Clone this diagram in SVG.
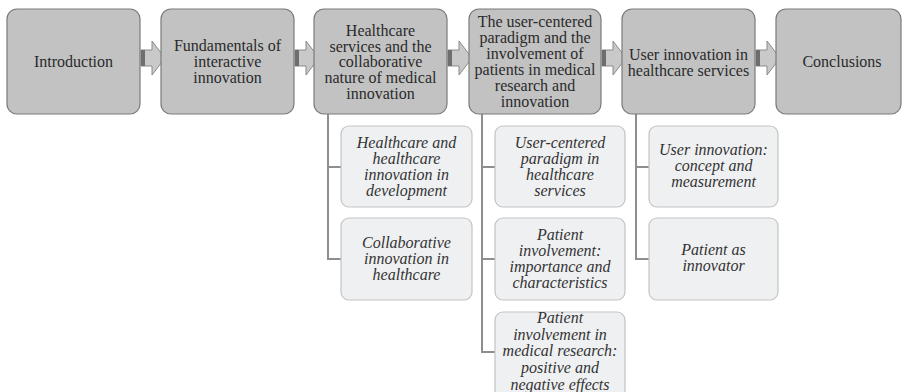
<svg xmlns="http://www.w3.org/2000/svg" width="902" height="392" viewBox="0 0 902 392">
<defs>
<style>
.main rect{fill:#c2c2c2;stroke:#7a7a7a;stroke-width:1.2}
.sub rect{fill:#eff0f2;stroke:#c4c4c4;stroke-width:1.2}
text{font-family:"Liberation Serif","Times New Roman",serif;font-size:16px;text-anchor:middle}
.main text{fill:#2a2a2a}
.sub text{fill:#333;font-style:italic}
.conn path{fill:none;stroke:#8e8e8e;stroke-width:2}
</style>
<g id="arrow"><path d="M0,50 H11 V41 L24,58 L11,75 V66 H0 Z" fill="#c9c9c9" stroke="#8a8a8a" stroke-width="1"/><rect x="0" y="50" width="4" height="16" fill="#6e6e6e"/></g>
</defs>
<rect width="902" height="392" fill="#fff"/>
<g id="connectors">
<g class="conn">
<path d="M328,114 V259 H341 M328,167 H341"/>
<path d="M482,114 V352 H495 M482,167 H495 M482,259 H495"/>
<path d="M636,114 V259 H649 M636,167 H649"/>
</g>
<g class="arr">
<use href="#arrow" x="141" y="0"/>
<use href="#arrow" x="295" y="0"/>
<use href="#arrow" x="448" y="0"/>
<use href="#arrow" x="602" y="0"/>
<use href="#arrow" x="756" y="0"/>
</g>
</g>
<g id="n1" class="main"><rect x="7" y="9" width="133" height="105" rx="10"/><text x="73.5" y="67">Introduction</text></g>
<g id="n2" class="main"><rect x="161" y="9" width="133" height="105" rx="10"/><text x="227.5" y="50.5">Fundamentals of</text><text x="227.5" y="66.5">interactive</text><text x="227.5" y="82.5">innovation</text></g>
<g id="n3" class="main"><rect x="314" y="9" width="133" height="105" rx="10"/><text x="380.5" y="36">Healthcare</text><text x="380.5" y="51.7">services and the</text><text x="380.5" y="67.4">collaborative</text><text x="380.5" y="83.1">nature of medical</text><text x="380.5" y="98.8">innovation</text></g>
<g id="n4" class="main"><rect x="469" y="9" width="132" height="105" rx="10"/><text x="535" y="27">The user-centered</text><text x="535" y="43">paradigm and the</text><text x="535" y="59">involvement of</text><text x="535" y="75">patients in medical</text><text x="535" y="91">research and</text><text x="535" y="107">innovation</text></g>
<g id="n5" class="main"><rect x="622" y="9" width="133" height="105" rx="10"/><text x="688.5" y="60">User innovation in</text><text x="688.5" y="76">healthcare services</text></g>
<g id="n6" class="main"><rect x="776" y="9" width="125" height="105" rx="10"/><text x="842" y="67">Conclusions</text></g>
<g id="s31" class="sub"><rect x="341" y="126" width="131" height="81" rx="8"/><text x="406.5" y="147.5">Healthcare and</text><text x="406.5" y="163.5">healthcare</text><text x="406.5" y="179.5">innovation in</text><text x="406.5" y="195.5">development</text></g>
<g id="s32" class="sub"><rect x="341" y="218" width="131" height="82" rx="8"/><text x="406.5" y="248">Collaborative</text><text x="406.5" y="264">innovation in</text><text x="406.5" y="280">healthcare</text></g>
<g id="s41" class="sub"><rect x="495" y="126" width="130" height="81" rx="8"/><text x="560" y="147.5">User-centered</text><text x="560" y="163.5">paradigm in</text><text x="560" y="179.5">healthcare</text><text x="560" y="195.5">services</text></g>
<g id="s42" class="sub"><rect x="495" y="218" width="130" height="82" rx="8"/><text x="560" y="240">Patient</text><text x="560" y="256">involvement:</text><text x="560" y="272">importance and</text><text x="560" y="288">characteristics</text></g>
<g id="s43" class="sub"><rect x="495" y="312" width="130" height="86" rx="8"/><text x="560" y="323">Patient</text><text x="560" y="339.7">involvement in</text><text x="560" y="356.4">medical research:</text><text x="560" y="373.1">positive and</text><text x="560" y="389.8">negative effects</text></g>
<g id="s51" class="sub"><rect x="649" y="126" width="129" height="81" rx="8"/><text x="713.5" y="155">User innovation:</text><text x="713.5" y="171">concept and</text><text x="713.5" y="187">measurement</text></g>
<g id="s52" class="sub"><rect x="649" y="218" width="129" height="82" rx="8"/><text x="713.5" y="255">Patient as</text><text x="713.5" y="271">innovator</text></g>
</svg>
